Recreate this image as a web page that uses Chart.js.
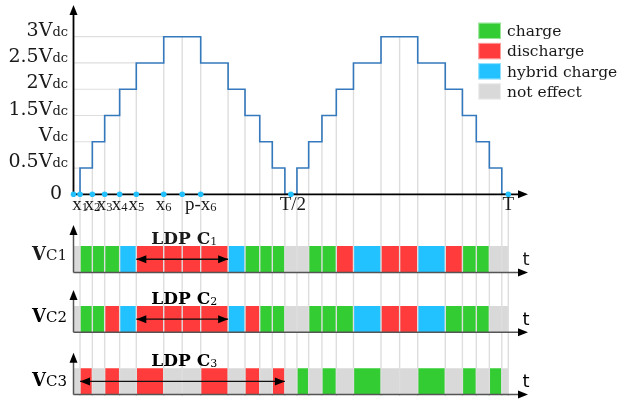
<!DOCTYPE html>
<html>
<head>
<meta charset="utf-8">
<script src="https://cdn.jsdelivr.net/npm/chart.js@4.4.1/dist/chart.umd.min.js"></script>
<style>
  html, body { margin: 0; padding: 0; background: #fff; }
</style>
</head>
<body>
<canvas id="chart" width="619" height="405"></canvas>
<script>
// switching instants over one period (degrees, T = 360)
const edges = [0, 5.4, 15.6, 25.8, 38.2, 52, 74.7, 90, 105.3, 128, 142, 154.2, 164.6, 175, 180,
               185, 194.7, 205.7, 217.6, 231.8, 254.6, 270, 285, 307.8, 322, 333.5, 344.3, 354.6, 360];
// output level in each interval, in Vdc
const levels = [0, 0.5, 1, 1.5, 2, 2.5, 3, 3, 2.5, 2, 1.5, 1, 0.5, 0,
                0, 0.5, 1, 1.5, 2, 2.5, 3, 3, 2.5, 2, 1.5, 1, 0.5, 0];

// capacitor state per interval: c = charge, d = discharge, h = hybrid charge, n = not effect
const stateC1 = ['n','c','c','c','h','d','d','d','d','h','c','c','c','n',
                 'n','n','c','c','d','h','d','d','h','d','c','c','n','n'];
const stateC2 = ['n','c','c','d','h','d','d','d','d','h','d','c','c','n',
                 'n','n','c','c','c','h','d','d','h','c','c','c','n','n'];
const stateC3 = ['n','d','n','d','n','d','n','n','d','n','d','n','d','n',
                 'n','c','n','c','n','c','n','n','c','n','c','n','c','n'];

// LDP span of each capacitor (degrees)
const ldpStart = [52, 52, 5.4];
const ldpEnd = [128, 128, 175];

// y tick labels of the staircase
const yTicks = [0, 0.5, 1, 1.5, 2, 2.5, 3];
const yTickText = ['0', '0.5V', 'V', '1.5V', '2V', '2.5V', '3V'];

// x marks under the staircase
const xMarks = [5.4, 15.6, 25.8, 38.2, 52, 74.7, 105.3, 180, 360];
const xMarkText = ['x', 'x', 'x', 'x', 'x', 'x', 'p-x', 'T/2', 'T'];
const xMarkSub = ['1', '2', '3', '4', '5', '6', '6', '', ''];
const dotMarks = [0, 5.4, 15.6, 25.8, 38.2, 52, 74.7, 90, 105.3, 180, 360];

const legendKeys = ['c', 'd', 'h', 'n'];
const legendText = ['charge', 'discharge', 'hybrid charge', 'not effect'];

const COLORS = { c: '#33cc33', d: '#ff3b3b', h: '#22c1ff', n: '#d9d9d9' };
const GRID = '#dedede';
const SERIF = '"DejaVu Serif", serif';
const TIMES = '"Liberation Serif", serif';

// layout of the drawing area (pixels)
const AREA = { left: 73.5, right: 528, top: 5, bottom: 396 };
const X_MAX = 376.3;
const rowLayout = [
  { top: 246, bottom: 272.5, tip: 225, label: 260 },
  { top: 306, bottom: 332.3, tip: 290, label: 322 },
  { top: 368.3, bottom: 394.6, tip: 352.7, label: 386 }
];
const states = [stateC1, stateC2, stateC3];

function axisRange(vTop, pxTop, vBot, pxBot) {
  const ppu = (pxBot - pxTop) / (vTop - vBot);
  return { min: vBot - (AREA.bottom - pxBot) / ppu, max: vTop + (pxTop - AREA.top) / ppu };
}
const waveRange = axisRange(3, 36.7, 0, 194.3);

// build datasets
const datasets = [];

// coloured state rows
states.forEach((codes, r) => {
  datasets.push({
    yAxisID: 'yC' + (r + 1),
    data: edges.map(e => ({ x: e, y: 1 })),
    borderColor: 'rgba(0,0,0,0)',
    borderWidth: 0,
    pointRadius: 0,
    fill: { value: 0 },
    backgroundColor: COLORS.n,
    segment: { backgroundColor: s => COLORS[codes[s.p0DataIndex]] },
    order: 6
  });
});

// vertical grid lines at the switching instants
edges.forEach((e, i) => {
  if (e === 0 || e === 180) return;
  const top = Math.max(levels[i - 1], levels[Math.min(i, levels.length - 1)]);
  datasets.push({
    data: [{ x: e, y: top }, { x: e, y: waveRange.min }],
    borderColor: GRID, borderWidth: 1.4, pointRadius: 0, order: 5
  });
});

// horizontal grid lines, from the y axis to the first rise of each level
yTicks.forEach(L => {
  if (L === 0) return;
  const idx = levels.findIndex(v => v >= L);
  datasets.push({
    data: [{ x: 0, y: L }, { x: edges[idx], y: L }],
    borderColor: GRID, borderWidth: 1.2, pointRadius: 0, order: 5
  });
});

// staircase waveform
datasets.push({
  role: 'wave',
  data: edges.map((e, i) => ({ x: e, y: levels[Math.min(i, levels.length - 1)] })),
  stepped: true,
  borderColor: '#3479bd',
  borderWidth: 1.6,
  pointRadius: 0,
  fill: false,
  order: 4
});

// LDP double arrows
ldpStart.forEach((s, r) => {
  datasets.push({
    yAxisID: 'yC' + (r + 1),
    data: [{ x: s, y: 0.5 }, { x: ldpEnd[r], y: 0.5 }],
    borderColor: '#111', borderWidth: 1.3, pointRadius: 0, order: 2
  });
});

// marker dots on the time axis
datasets.push({
  data: dotMarks.map(m => ({ x: m, y: 0 })),
  showLine: false,
  pointRadius: 2.8,
  pointBackgroundColor: '#22c1ff',
  pointBorderWidth: 0,
  clip: false,
  order: 1
});

function arrow(ctx, tx, ty, dx, dy) {
  const len = 10, hw = 4;
  ctx.beginPath();
  ctx.moveTo(tx, ty);
  ctx.lineTo(tx - dx * len - dy * hw, ty - dy * len + dx * hw);
  ctx.lineTo(tx - dx * len + dy * hw, ty - dy * len - dx * hw);
  ctx.closePath();
  ctx.fillStyle = '#000';
  ctx.fill();
}

function line(ctx, x1, y1, x2, y2, color, w) {
  ctx.beginPath();
  ctx.moveTo(x1, y1);
  ctx.lineTo(x2, y2);
  ctx.strokeStyle = color;
  ctx.lineWidth = w;
  ctx.stroke();
}

function rich(ctx, parts, x, y, align) {
  let w = 0;
  parts.forEach(p => { ctx.font = p.font; p.w = ctx.measureText(p.text).width; w += p.w; });
  let cx = align === 'right' ? x - w : align === 'center' ? x - w / 2 : x;
  ctx.textAlign = 'left';
  ctx.textBaseline = 'alphabetic';
  parts.forEach(p => { ctx.font = p.font; ctx.fillText(p.text, cx, y + (p.dy || 0)); cx += p.w; });
}

function drawAxes(chart) {
  const ctx = chart.ctx, xs = chart.scales.x, ys = chart.scales.y;
  const x0 = xs.getPixelForValue(0), xEnd = xs.getPixelForValue(X_MAX);
  const y0 = ys.getPixelForValue(0);
  ctx.save();
  line(ctx, x0, y0, x0, ys.getPixelForValue(ys.max) + 6, '#000', 1.8);
  line(ctx, x0, y0, xEnd - 6, y0, '#000', 1.8);
  arrow(ctx, x0, ys.getPixelForValue(ys.max), 0, -1);
  arrow(ctx, xEnd, y0, 1, 0);
  rowLayout.forEach((L, r) => {
    const yb = chart.scales['yC' + (r + 1)].getPixelForValue(0);
    line(ctx, x0, yb, x0, L.tip + 6, '#555', 1.5);
    line(ctx, x0, yb, xEnd - 6, yb, '#555', 1.5);
    arrow(ctx, x0, L.tip, 0, -1);
    arrow(ctx, xEnd, yb, 1, 0);
  });
  ctx.restore();
}

function drawTexts(chart) {
  const ctx = chart.ctx, xs = chart.scales.x, ys = chart.scales.y;
  const x0 = xs.getPixelForValue(0), y0 = ys.getPixelForValue(0);
  ctx.save();
  ctx.fillStyle = '#1a1a1a';

  // staircase y labels
  yTicks.forEach((v, i) => {
    if (v === 0) {
      rich(ctx, [{ text: yTickText[i], font: '19px ' + SERIF }], x0 - 11.5, y0 + 5, 'right');
    } else {
      rich(ctx, [{ text: yTickText[i], font: '19px ' + SERIF }, { text: 'dc', font: '13px ' + SERIF }],
        x0 - 5.5, ys.getPixelForValue(v) - 1, 'right');
    }
  });

  // x marks
  xMarks.forEach((m, i) => {
    const parts = [{ text: xMarkText[i], font: '19px ' + TIMES }];
    if (xMarkSub[i]) parts.push({ text: xMarkSub[i], font: '12.5px ' + TIMES, dy: 1.5 });
    rich(ctx, parts, xs.getPixelForValue(m) + (m === 180 ? 2 : 0), y0 + 15.5, 'center');
  });

  // row labels, LDP labels and t labels
  rowLayout.forEach((L, r) => {
    const yb = chart.scales['yC' + (r + 1)].getPixelForValue(0);
    const yt = chart.scales['yC' + (r + 1)].getPixelForValue(1);
    rich(ctx, [{ text: 'V', font: 'bold 18px ' + SERIF }, { text: 'C' + (r + 1), font: '15px ' + SERIF }],
      67, L.label, 'right');
    rich(ctx, [{ text: 'LDP C', font: 'bold 17px ' + SERIF }, { text: String(r + 1), font: '11px ' + SERIF, dy: 1.5 }],
      xs.getPixelForValue(90) + 2, yt - 2.5, 'center');
    rich(ctx, [{ text: 't', font: '18px "DejaVu Sans", sans-serif' }], 522.5, yb - 7.5, 'left');

    // LDP arrow heads
    const ya = chart.scales['yC' + (r + 1)].getPixelForValue(0.5);
    arrow(ctx, xs.getPixelForValue(ldpStart[r]), ya, -1, 0);
    arrow(ctx, xs.getPixelForValue(ldpEnd[r]), ya, 1, 0);
  });

  // legend
  legendKeys.forEach((k, i) => {
    const top = 22.7 + i * 20.2;
    ctx.fillStyle = COLORS[k];
    ctx.fillRect(478.3, top, 22.7, 16.3);
    ctx.strokeStyle = 'rgba(255,255,255,0.5)';
    ctx.lineWidth = 1;
    ctx.strokeRect(478.8, top + 0.5, 21.7, 15.3);
    ctx.fillStyle = '#1a1a1a';
    rich(ctx, [{ text: legendText[i], font: '15.5px ' + SERIF }], 507, top + 13.5, 'left');
  });
  ctx.restore();
}

const decor = {
  id: 'decor',
  afterDatasetDraw(chart, args) {
    if (chart.data.datasets[args.index].role === 'wave') drawAxes(chart);
  },
  afterDraw(chart) { drawTexts(chart); }
};

const scales = {
  x: { type: 'linear', display: false, min: 0, max: X_MAX },
  y: { type: 'linear', display: false, min: waveRange.min, max: waveRange.max }
};
rowLayout.forEach((L, r) => {
  const rr = axisRange(1, L.top, 0, L.bottom);
  scales['yC' + (r + 1)] = { type: 'linear', display: false, min: rr.min, max: rr.max };
});

new Chart(document.getElementById('chart').getContext('2d'), {
  type: 'line',
  data: { datasets: datasets },
  options: {
    responsive: false,
    devicePixelRatio: 1,
    animation: false,
    events: [],
    layout: { padding: { left: AREA.left, right: 619 - AREA.right, top: AREA.top, bottom: 405 - AREA.bottom } },
    scales: scales,
    plugins: { legend: { display: false }, tooltip: { enabled: false } }
  },
  plugins: [decor]
});
</script>
</body>
</html>
